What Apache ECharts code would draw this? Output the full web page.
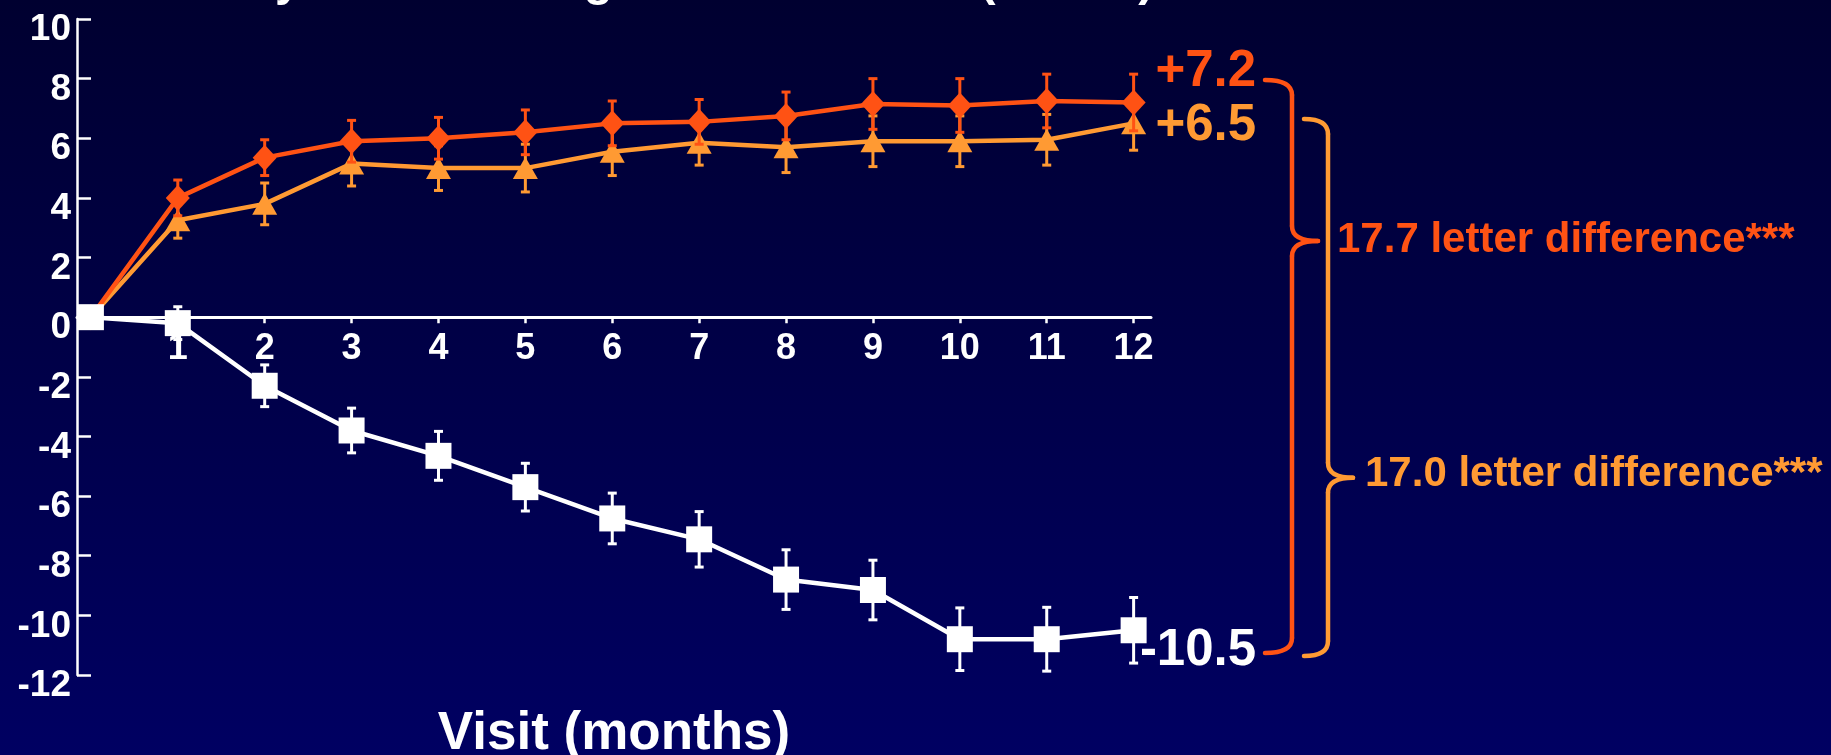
<!DOCTYPE html>
<html>
<head>
<meta charset="utf-8">
<script src="https://cdn.jsdelivr.net/npm/echarts@6/dist/echarts.min.js"></script>
<style>
html,body{margin:0;padding:0;background:#00003a;}
#chart{width:1831px;height:755px;}
</style>
</head>
<body>
<div id="chart"></div>
<script>
// ---- data ----
const months = [0,1,2,3,4,5,6,7,8,9,10,11,12];
const xTickValues = [1,2,3,4,5,6,7,8,9,10,11,12];
const dose05 = [0, 4.0, 5.35, 5.9, 6.0, 6.2, 6.5, 6.55, 6.75, 7.15, 7.1, 7.25, 7.2];
const dose05SE = [0, 0.6, 0.6, 0.7, 0.7, 0.75, 0.75, 0.75, 0.8, 0.85, 0.9, 0.9, 0.95];
const dose03 = [0, 3.25, 3.8, 5.15, 5.0, 5.0, 5.55, 5.85, 5.7, 5.9, 5.9, 5.95, 6.5];
const dose03SE = [0, 0.6, 0.7, 0.75, 0.75, 0.8, 0.8, 0.75, 0.85, 0.85, 0.85, 0.85, 0.9];
const sham = [0, -0.2, -2.3, -3.8, -4.65, -5.7, -6.75, -7.45, -8.8, -9.15, -10.8, -10.8, -10.5];
const shamSE = [0, 0.55, 0.7, 0.75, 0.82, 0.8, 0.85, 0.93, 1.0, 1.0, 1.05, 1.07, 1.1];
const diffText1 = '17.7 letter difference***';
const diffText2 = '17.0 letter difference***';
const titleText = 'Visual Acuity: Mean Change from Baseline (letters)';
const xName = 'Visit (months)';

const RED = '#FF5214';
const ORANGE = '#FF9A33';
const WHITE = '#FFFFFF';
const FONT = '"Liberation Sans", Arial, Helvetica, sans-serif';
const GRID_BOTTOM = 80;

function fmtEnd(v){ return (v > 0 ? '+' : '') + v.toFixed(1); }

function lineData(vals, color, dy){
  return months.map((m, i) => {
    const item = { value: [m, vals[i]] };
    if (i === months.length - 1) {
      item.label = {
        show: true, position: 'inside', align: 'right', verticalAlign: 'middle',
        offset: [122.5, dy], formatter: fmtEnd(vals[i]),
        color: color, fontSize: 51, fontWeight: 'bold', fontFamily: FONT
      };
    }
    return item;
  });
}
function errData(vals, se){ return months.map((m, i) => [m, vals[i], se[i]]); }
function errRender(color){
  return function(params, api){
    const x = api.value(0), y = api.value(1), e = api.value(2);
    if (!e) return null;
    const t = api.coord([x, y + e]), b = api.coord([x, y - e]);
    const hw = 4.5;
    const st = { stroke: color, lineWidth: 3 };
    return { type: 'group', children: [
      { type: 'line', shape: { x1: t[0], y1: t[1], x2: b[0], y2: b[1] }, style: st },
      { type: 'line', shape: { x1: t[0]-hw, y1: t[1], x2: t[0]+hw, y2: t[1] }, style: st },
      { type: 'line', shape: { x1: b[0]-hw, y1: b[1], x2: b[0]+hw, y2: b[1] }, style: st }
    ]};
  };
}
// curly brace built from straight and quadratic pieces
function brace(xEnd, xStem, xTip, yTop, yTip, yBot, color){
  const r = 15;
  const st = { stroke: color, lineWidth: 4.5, fill: null, lineCap: 'round' };
  const seg = (x1,y1,x2,y2) => ({ type: 'line', silent: true, shape: { x1, y1, x2, y2 }, style: st });
  const q = (x1,y1,cx,cy,x2,y2) => ({ type: 'bezierCurve', silent: true, shape: { x1, y1, cpx1: cx, cpy1: cy, x2, y2 }, style: st });
  return { type: 'group', silent: true, children: [
    q(xEnd, yTop, xStem, yTop, xStem, yTop + r),
    seg(xStem, yTop + r, xStem, yTip - r),
    q(xStem, yTip - r, xStem, yTip, xTip, yTip),
    q(xTip, yTip, xStem, yTip, xStem, yTip + r),
    seg(xStem, yTip + r, xStem, yBot - r),
    q(xStem, yBot - r, xStem, yBot, xEnd, yBot)
  ]};
}

const chart = echarts.init(document.getElementById('chart'), null, { renderer: 'canvas' });
chart.setOption({
  animation: false,
  backgroundColor: 'transparent',
  grid: { left: 77, width: 1074, top: 19, bottom: GRID_BOTTOM, containLabel: false, outerBoundsMode: 'none' },
  xAxis: {
    type: 'value', min: -0.16, max: 12.2, position: 'bottom', offset: 0,
    axisLine: { onZero: false, lineStyle: { color: WHITE, width: 3 } },
    axisTick: { show: true, inside: false, length: 6, customValues: xTickValues, lineStyle: { color: WHITE, width: 2.5 } },
    axisLabel: { customValues: xTickValues, color: WHITE, fontSize: 36, fontWeight: 'bold', fontFamily: FONT, margin: 14 },
    splitLine: { show: false },
    name: xName, nameLocation: 'middle', nameGap: 391, nameMoveOverlap: false,
    nameTextStyle: { color: WHITE, fontSize: 53, fontWeight: 'bold', fontFamily: FONT }
  },
  yAxis: {
    type: 'value', min: -12, max: 10, interval: 2,
    axisLine: { show: true, onZero: false, lineStyle: { color: WHITE, width: 2.5 } },
    axisTick: { show: true, inside: true, length: 14, lineStyle: { color: WHITE, width: 2.5 } },
    axisLabel: { color: WHITE, fontSize: 37, fontWeight: 'bold', fontFamily: FONT, margin: 6,
      verticalAlign: 'top', lineHeight: 22 },
    splitLine: { show: false }
  },
  graphic: [
    { type: 'rect', z: -100, silent: true, shape: { x: 0, y: 0, width: 1831, height: 755 },
      style: { fill: new echarts.graphic.LinearGradient(0, 0, 0, 1, [
        { offset: 0, color: '#000030' }, { offset: 1, color: '#000062' }]) } },
    { type: 'text', x: 4, y: -17.7, silent: true,
      style: { text: titleText, fill: WHITE, font: 'bold 47.5px ' + FONT, textAlign: 'left', textVerticalAlign: 'middle' } },
    brace(1265, 1292, 1318, 80, 241, 653, RED),
    brace(1304, 1328, 1353, 119, 477.7, 656, ORANGE),
    { type: 'text', x: 1337, y: 240, silent: true,
      style: { text: diffText1, fill: RED, font: 'bold 42px ' + FONT, textAlign: 'left', textVerticalAlign: 'middle' } },
    { type: 'text', x: 1365, y: 474, silent: true,
      style: { text: diffText2, fill: ORANGE, font: 'bold 42px ' + FONT, textAlign: 'left', textVerticalAlign: 'middle' } }
  ],
  series: [
    { name: '0.3 mg SE', type: 'custom', z: 2, renderItem: errRender(ORANGE), data: errData(dose03, dose03SE), encode: { x: 0, y: 1 } },
    { name: '0.3 mg', type: 'line', z: 3, data: lineData(dose03, ORANGE, 2.6),
      symbol: 'triangle', symbolSize: [25, 22], showSymbol: true,
      lineStyle: { color: ORANGE, width: 4.5 }, itemStyle: { color: ORANGE } },
    { name: '0.5 mg SE', type: 'custom', z: 4, renderItem: errRender(RED), data: errData(dose05, dose05SE), encode: { x: 0, y: 1 } },
    { name: '0.5 mg', type: 'line', z: 5, data: lineData(dose05, RED, -31),
      symbol: 'diamond', symbolSize: [24, 26], showSymbol: true,
      lineStyle: { color: RED, width: 4.5 }, itemStyle: { color: RED } },
    { name: 'Sham SE', type: 'custom', z: 6, renderItem: errRender(WHITE), data: errData(sham, shamSE), encode: { x: 0, y: 1 } },
    { name: 'Sham', type: 'line', z: 7, data: lineData(sham, WHITE, 21),
      symbol: 'rect', symbolSize: 26, showSymbol: true,
      lineStyle: { color: WHITE, width: 4.5 }, itemStyle: { color: WHITE } }
  ]
});
// move the x axis (line, ticks, labels, name) up to the zero line of the y axis
const zeroY = chart.convertToPixel({ yAxisIndex: 0 }, 0);
const gridBottomY = chart.getHeight() - GRID_BOTTOM;
chart.setOption({ xAxis: { offset: zeroY - gridBottomY } });
</script>
</body>
</html>
